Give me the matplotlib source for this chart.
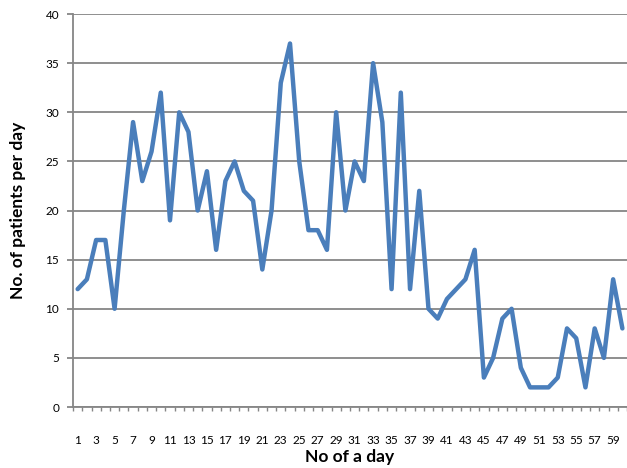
import numpy as np
import matplotlib
matplotlib.use("Agg")
import matplotlib.pyplot as plt

days = list(range(1, 61))
patients = [12, 13, 17, 17, 10, 20, 29, 23, 26, 32,
            19, 30, 28, 20, 24, 16, 23, 25, 22, 21,
            14, 20, 33, 37, 25, 18, 18, 16, 30, 20,
            25, 23, 35, 29, 12, 32, 12, 22, 10, 9,
            11, 12, 13, 16, 3, 5, 9, 10, 4, 2,
            2, 2, 3, 8, 7, 2, 8, 5, 13, 8]
y_ticks = [0, 5, 10, 15, 20, 25, 30, 35, 40]
x_labels = [str(d) for d in range(1, 61, 2)]

plt.rcParams['font.family'] = ['Lato', 'DejaVu Sans']
grey = '#868686'

fig = plt.figure(figsize=(6.27, 4.68), dpi=100)
ax = fig.add_axes([0.1165, 0.1303, 0.8835, 0.8397])

ax.plot(days, patients, color='#4a7ebb', linewidth=3.2, solid_joinstyle='round',
        solid_capstyle='round', zorder=3)

ax.set_xlim(0.5, 60.5)
ax.set_ylim(0, 40)
ax.set_yticks(y_ticks)
ax.yaxis.grid(True, color=grey, linewidth=1.3)
ax.set_axisbelow(True)

# category axis: labels on every other day, tick marks between categories
ax.set_xticks(range(1, 61, 2))
ax.set_xticklabels(x_labels)
ax.set_xticks(np.arange(0.5, 61, 1), minor=True)
ax.tick_params(axis='x', which='major', length=0, pad=20, labelsize=8.5, colors='black')
ax.tick_params(axis='x', which='minor', length=3, width=1, color=grey)
ax.tick_params(axis='y', length=4, width=1.3, color=grey, labelsize=8.5, pad=6)

for s in ['top', 'right']:
    ax.spines[s].set_visible(False)
for s in ['left', 'bottom']:
    ax.spines[s].set_color(grey)
    ax.spines[s].set_linewidth(1.3)

ax.set_xlabel('No of a day', fontsize=12.5, fontweight='bold', labelpad=2)
ax.set_ylabel('No. of patients per day', fontsize=12.5, fontweight='bold', labelpad=14)

fig.savefig('out.png', dpi=100)
